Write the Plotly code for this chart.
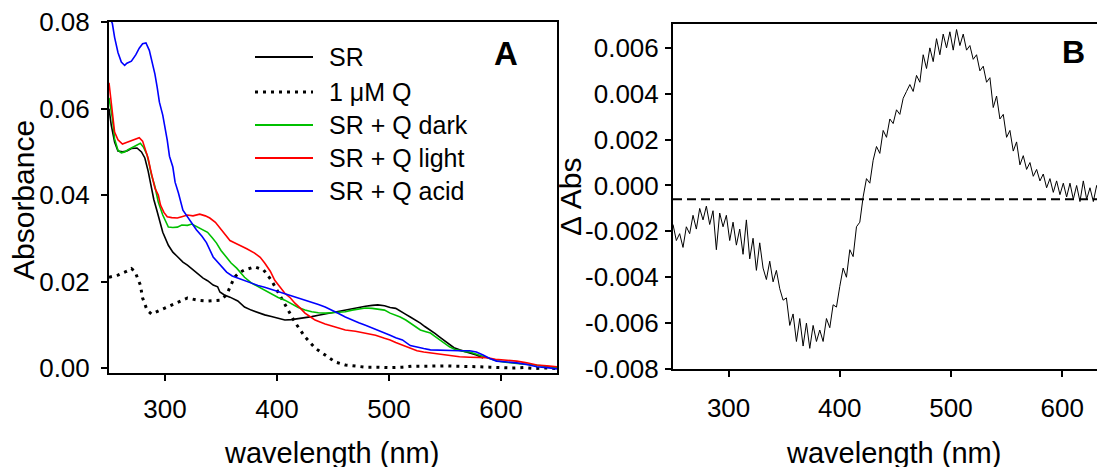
import plotly.graph_objects as go

W, H = 1105, 467
OFF = 8  # the page body adds an 8px margin; positions below are in screenshot pixels

# ---------------- Panel A data ----------------
sr_nm = [250, 252, 255, 258, 262, 266, 270, 275, 279, 282, 285, 288, 290, 293, 296, 298, 303, 307, 311, 316,
         320, 325, 330, 334, 338, 343, 347, 349, 353, 358, 365, 371, 377, 383, 389, 395, 401, 407, 413, 419,
         425, 431, 437, 443, 449, 455, 461, 467, 473, 479, 485, 490, 496, 501, 506, 510, 515, 519, 524, 528,
         532, 537, 541, 545, 550, 554, 558, 563, 568, 572, 578, 584]
sr_abs = [0.0600, 0.0562, 0.0523, 0.0502, 0.0500, 0.0502, 0.0508, 0.0509, 0.0500, 0.0486, 0.0455, 0.0410, 0.0390,
          0.0362, 0.0335, 0.0314, 0.0284, 0.0268, 0.0258, 0.0245, 0.0238, 0.0227, 0.0216, 0.0208, 0.0202, 0.0192,
          0.0188, 0.0176, 0.0169, 0.0164, 0.0155, 0.0141, 0.0134, 0.0128, 0.0123, 0.0119, 0.0115, 0.0111, 0.0112,
          0.0114, 0.0116, 0.0119, 0.0122, 0.0125, 0.0128, 0.0131, 0.0134, 0.0138, 0.0141, 0.0143, 0.0145, 0.0146,
          0.0144, 0.0140, 0.0138, 0.0131, 0.0124, 0.0118, 0.0111, 0.0104, 0.0096, 0.0088, 0.0080, 0.0072, 0.0062,
          0.0053, 0.0047, 0.0042, 0.0038, 0.0035, 0.0030, 0.0023]

q_nm = [250, 254, 258, 262, 266, 270, 273, 276, 278, 280, 282, 284, 288, 294, 302, 311, 320, 329, 338, 349,
        355, 358, 362, 366, 371, 380, 388, 395, 400, 403, 410, 416, 425, 434, 443, 452, 461, 470, 479, 490,
        500, 512, 520, 530, 540, 550, 560, 570, 580, 590, 600, 610, 620, 630, 640, 650]
q_abs = [0.0210, 0.0213, 0.0215, 0.0220, 0.0224, 0.0230, 0.0224, 0.0205, 0.0192, 0.0162, 0.0148, 0.0134, 0.0125,
         0.0132, 0.0141, 0.0153, 0.0162, 0.0157, 0.0155, 0.0157, 0.0169, 0.0187, 0.0210, 0.0220, 0.0227, 0.0234,
         0.0227, 0.0203, 0.0180, 0.0169, 0.0134, 0.0106, 0.0072, 0.0046, 0.0030, 0.0014, 0.0007, 0.0004, 0.0002,
         0.0002, 0.0001, 0.0002, 0.0004, 0.0004, 0.0005, 0.0005, 0.0004, 0.0004, 0.0003, 0.0002, 0.0001, 0.0000,
         0.0001, -0.0001, 0.0000, -0.0001]

dark_nm = [250, 253, 255, 258, 261, 264, 267, 270, 274, 278, 281, 284, 286, 288, 291, 294, 298, 303, 307, 311,
           315, 320, 324, 329, 334, 338, 342, 346, 350, 355, 359, 364, 371, 377, 383, 389, 395, 401, 407, 413,
           419, 425, 431, 437, 443, 449, 455, 461, 467, 473, 479, 485, 490, 496, 501, 506, 510, 515, 519, 524,
           528, 533, 537, 541, 545, 550, 554, 559, 563, 568, 572, 578, 584, 590, 596, 602, 608, 614, 620, 626,
           632, 638, 644, 650]
dark_abs = [0.0625, 0.0578, 0.0530, 0.0504, 0.0498, 0.0500, 0.0505, 0.0509, 0.0513, 0.0520, 0.0510, 0.0493, 0.0470,
            0.0446, 0.0420, 0.0384, 0.0354, 0.0326, 0.0325, 0.0326, 0.0331, 0.0330, 0.0333, 0.0326, 0.0320, 0.0314,
            0.0302, 0.0289, 0.0272, 0.0257, 0.0243, 0.0231, 0.0210, 0.0197, 0.0188, 0.0180, 0.0171, 0.0163, 0.0157,
            0.0148, 0.0140, 0.0134, 0.0130, 0.0128, 0.0127, 0.0128, 0.0129, 0.0130, 0.0134, 0.0137, 0.0139, 0.0138,
            0.0136, 0.0134, 0.0127, 0.0122, 0.0118, 0.0111, 0.0104, 0.0094, 0.0088, 0.0084, 0.0081, 0.0073, 0.0065,
            0.0057, 0.0049, 0.0043, 0.0040, 0.0038, 0.0037, 0.0032, 0.0028, 0.0022, 0.0017, 0.0014, 0.0012, 0.0011,
            0.0009, 0.0008, 0.0006, 0.0004, 0.0003, 0.0001]

light_nm = [250, 253, 255, 258, 262, 265, 269, 273, 277, 280, 282, 285, 287, 289, 291, 294, 296, 299, 302, 306,
            311, 315, 320, 325, 331, 336, 340, 345, 349, 354, 358, 362, 367, 373, 380, 385, 389, 394, 398, 403,
            407, 412, 416, 421, 425, 430, 434, 439, 443, 452, 461, 470, 479, 488, 496, 501, 506, 512, 519, 525,
            531, 537, 545, 554, 563, 572, 580, 587, 595, 605, 614, 623, 632, 641, 650]
light_abs = [0.0660, 0.0585, 0.0546, 0.0528, 0.0518, 0.0521, 0.0525, 0.0530, 0.0533, 0.0525, 0.0509, 0.0485, 0.0460,
             0.0438, 0.0416, 0.0400, 0.0377, 0.0360, 0.0350, 0.0348, 0.0347, 0.0350, 0.0354, 0.0352, 0.0356, 0.0352,
             0.0347, 0.0337, 0.0324, 0.0307, 0.0295, 0.0290, 0.0284, 0.0276, 0.0266, 0.0256, 0.0243, 0.0224, 0.0203,
             0.0187, 0.0173, 0.0162, 0.0150, 0.0138, 0.0127, 0.0118, 0.0111, 0.0106, 0.0102, 0.0095, 0.0088, 0.0085,
             0.0081, 0.0076, 0.0069, 0.0065, 0.0059, 0.0053, 0.0045, 0.0040, 0.0037, 0.0035, 0.0031, 0.0028, 0.0026,
             0.0025, 0.0025, 0.0024, 0.0020, 0.0018, 0.0016, 0.0012, 0.0007, 0.0005, 0.0003]

acid_nm = [250, 253, 255, 258, 261, 264, 266, 270, 274, 277, 280, 283, 286, 288, 291, 293, 295, 298, 300, 302,
           304, 307, 309, 312, 316, 321, 325, 328, 333, 337, 343, 349, 355, 360, 365, 371, 377, 383, 389, 395,
           401, 407, 413, 419, 425, 431, 437, 443, 449, 455, 461, 467, 473, 479, 485, 491, 496, 501, 506, 512,
           519, 525, 531, 537, 545, 554, 563, 572, 578, 584, 590, 596, 605, 614, 623, 632, 641, 650]
acid_abs = [0.0815, 0.0797, 0.0765, 0.0730, 0.0708, 0.0700, 0.0705, 0.0710, 0.0725, 0.0740, 0.0750, 0.0752, 0.0735,
            0.0715, 0.0680, 0.0650, 0.0615, 0.0585, 0.0560, 0.0527, 0.0490, 0.0465, 0.0430, 0.0405, 0.0365, 0.0347,
            0.0330, 0.0320, 0.0305, 0.0290, 0.0257, 0.0240, 0.0222, 0.0213, 0.0208, 0.0203, 0.0196, 0.0191, 0.0187,
            0.0182, 0.0177, 0.0173, 0.0168, 0.0162, 0.0157, 0.0152, 0.0147, 0.0141, 0.0134, 0.0126, 0.0118, 0.0111,
            0.0105, 0.0099, 0.0093, 0.0087, 0.0081, 0.0076, 0.0070, 0.0065, 0.0052, 0.0048, 0.0045, 0.0042, 0.0041,
            0.0040, 0.0040, 0.0040, 0.0037, 0.0030, 0.0022, 0.0016, 0.0014, 0.0012, 0.0008, 0.0003, 0.0001, -0.0002]

series_names = ["SR", "1 \u03bcM Q", "SR + Q dark", "SR + Q light", "SR + Q acid"]
series_colors = ["#000000", "#000000", "#00c000", "#ff0000", "#0000ff"]

# ---------------- Panel B data ----------------
diff_nm = list(range(250, 641, 3))
diff_abs = [-0.0017, -0.0024, -0.0021, -0.0027, -0.0018, -0.0021, -0.0013, -0.0019, -0.0010, -0.0015,
            -0.0009, -0.0017, -0.0011, -0.0028, -0.0012, -0.0018, -0.0013, -0.0024, -0.0016, -0.0026,
            -0.0019, -0.0030, -0.0015, -0.0032, -0.0023, -0.0037, -0.0025, -0.0036, -0.0041, -0.0033,
            -0.0042, -0.0037, -0.0045, -0.0050, -0.0049, -0.0061, -0.0056, -0.0068, -0.0058, -0.0070,
            -0.0060, -0.0071, -0.0061, -0.0068, -0.0063, -0.0068, -0.0058, -0.0062, -0.0052, -0.0053,
            -0.0044, -0.0036, -0.0040, -0.0028, -0.0031, -0.0018, -0.0016, -0.0005, 0.0003, 0.0001,
            0.0011, 0.0017, 0.0014, 0.0024, 0.0021, 0.0029, 0.0027, 0.0033, 0.0031, 0.0038,
            0.0041, 0.0044, 0.0041, 0.0048, 0.0045, 0.0057, 0.0051, 0.0060, 0.0054, 0.0064,
            0.0057, 0.0066, 0.0060, 0.0067, 0.0059, 0.0068, 0.0061, 0.0066, 0.0059, 0.0061,
            0.0055, 0.0057, 0.0050, 0.0052, 0.0045, 0.0047, 0.0034, 0.0039, 0.0029, 0.0031,
            0.0021, 0.0024, 0.0015, 0.0019, 0.0009, 0.0013, 0.0007, 0.0010, 0.0004, 0.0007,
            0.0002, 0.0005, -0.0001, 0.0003, -0.0003, 0.0002, -0.0004, 0.0001, -0.0005, 0.0001,
            -0.0006, 0.0000, -0.0007, 0.0002, -0.0006, -0.0001, -0.0007, 0.0000, -0.0005, -0.0002,
            -0.0005]
diff_baseline = -0.0006

# ---------------- tick labels ----------------
a_xticks = [300, 400, 500, 600]
a_yticks = [0.0, 0.02, 0.04, 0.06, 0.08]
a_ytext = ["0.00", "0.02", "0.04", "0.06", "0.08"]
b_xticks = [300, 400, 500, 600]
b_yticks = [-0.008, -0.006, -0.004, -0.002, 0.0, 0.002, 0.004, 0.006]
b_ytext = ["-0.008", "-0.006", "-0.004", "-0.002", "0.000", "0.002", "0.004", "0.006"]


def px(x):
    return (x - OFF) / W


def py(y):
    return 1 - (y - OFF) / H


FONT = "Liberation Sans, Arial, sans-serif"

fig = go.Figure()

a_series = [(sr_nm, sr_abs), (q_nm, q_abs), (dark_nm, dark_abs), (light_nm, light_abs), (acid_nm, acid_abs)]
draw_order = [1, 0, 2, 3, 4]
for i in draw_order:
    xs, ys = a_series[i]
    dash = "3px,5px" if i == 1 else "solid"
    width = 3 if i == 1 else 1.6
    fig.add_trace(go.Scatter(x=xs, y=ys, mode="lines", name=series_names[i],
                             line=dict(color=series_colors[i], width=width, dash=dash),
                             xaxis="x", yaxis="y", showlegend=False))

fig.add_trace(go.Scatter(x=diff_nm, y=diff_abs, mode="lines", name="\u0394 Abs",
                         line=dict(color="black", width=1), xaxis="x2", yaxis="y2", showlegend=False))

axis_common = dict(showgrid=False, zeroline=False, showline=True, linecolor="black", linewidth=2,
                   ticks="outside", tickcolor="black", tickwidth=1.5, ticklen=6, automargin=False,
                   ticklabeloverflow="allow",
                   tickfont=dict(family=FONT, size=26, color="black"))

fig.update_layout(
    width=W, height=H,
    margin=dict(l=0, r=0, t=0, b=0, autoexpand=False),
    paper_bgcolor="white", plot_bgcolor="white",
    showlegend=False,
    font=dict(family=FONT, size=25, color="black"),
    xaxis=dict(domain=[px(109), px(557)], range=[250, 650], anchor="y", mirror=True,
               tickvals=a_xticks, ticklabelstandoff=6, **axis_common),
    yaxis=dict(domain=[py(373), py(22)], range=[-0.00115, 0.08005], anchor="x", mirror=True,
               tickvals=a_yticks, ticktext=a_ytext, ticklabelstandoff=6, **axis_common),
    xaxis2=dict(domain=[px(673), 1.0], range=[250, 645.7], anchor="y2", mirror=True,
                tickvals=b_xticks, ticklabelstandoff=9, **axis_common),
    yaxis2=dict(domain=[py(369), py(24)], range=[-0.008, 0.00704], anchor="x2", mirror=False,
                tickvals=b_yticks, ticktext=b_ytext, ticklabelstandoff=1, **axis_common),
)

# baseline in panel B
fig.add_shape(type="line", xref="x2 domain", yref="y2", x0=0, x1=1, y0=diff_baseline, y1=diff_baseline,
              line=dict(color="black", width=2, dash="9px,5px"))

# legend (panel A)
legend_y = [57, 92, 125, 158, 191]
for i, yy in enumerate(legend_y):
    dash = "3px,5px" if i == 1 else "solid"
    width = 3 if i == 1 else 2
    fig.add_shape(type="line", xref="paper", yref="paper", x0=px(255), x1=px(313), y0=py(yy), y1=py(yy),
                  line=dict(color=series_colors[i], width=width, dash=dash))
    fig.add_annotation(xref="paper", yref="paper", x=px(327), y=py(yy), text=series_names[i],
                       showarrow=False, xanchor="left", yanchor="middle",
                       font=dict(family=FONT, size=25, color="black"))

# panel letters
fig.add_annotation(xref="paper", yref="paper", x=px(505.5), y=py(53.7), text="<b>A</b>", showarrow=False,
                   xanchor="center", yanchor="middle", font=dict(family=FONT, size=33, color="black"))
fig.add_annotation(xref="paper", yref="paper", x=px(1073.5), y=py(52), text="<b>B</b>", showarrow=False,
                   xanchor="center", yanchor="middle", font=dict(family=FONT, size=32, color="black"))

# axis titles
fig.add_annotation(xref="paper", yref="paper", x=px(331), y=py(453), text="wavelength (nm)", showarrow=False,
                   xanchor="center", yanchor="middle", font=dict(family=FONT, size=29, color="black"))
fig.add_annotation(xref="paper", yref="paper", x=px(893), y=py(453), text="wavelength (nm)", showarrow=False,
                   xanchor="center", yanchor="middle", font=dict(family=FONT, size=29, color="black"))
fig.add_annotation(xref="paper", yref="paper", x=px(23), y=py(200), text="Absorbance", showarrow=False,
                   textangle=-90, xanchor="center", yanchor="middle", font=dict(family=FONT, size=30, color="black"))
fig.add_annotation(xref="paper", yref="paper", x=px(571), y=py(197), text="\u0394 Abs", showarrow=False,
                   textangle=-90, xanchor="center", yanchor="middle", font=dict(family=FONT, size=30, color="black"))

fig.write_html("out.html")
